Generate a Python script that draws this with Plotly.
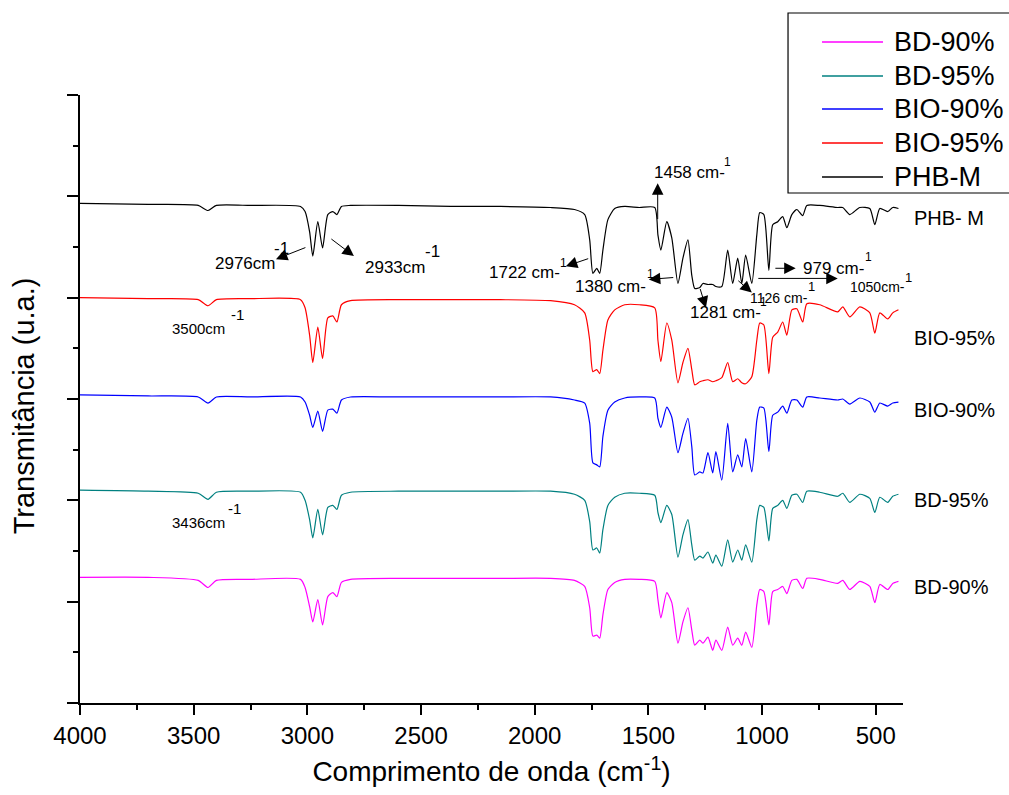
import plotly.graph_objects as go

# Wavenumber grid (cm-1) shared by all spectra
WAVENUMBER = [
    4000, 3700, 3480, 3437, 3400, 3250, 3030, 3010, 2990, 2976,
    2954, 2933, 2910, 2888, 2870, 2850, 2810, 2600, 2370, 2150,
    1930, 1825, 1780, 1758, 1744, 1727, 1714, 1700, 1678, 1648,
    1604, 1540, 1472, 1458, 1445, 1419, 1397, 1370, 1348, 1326,
    1309, 1296, 1274, 1260, 1238, 1217, 1203, 1177, 1151, 1129,
    1107, 1089, 1072, 1045, 1023, 1010, 992, 970, 953, 931,
    909, 891, 869, 847, 821, 803, 746, 667, 645, 614,
    570, 526, 504, 482, 447, 425, 400,
]

# Stacked transmittance (arbitrary units)
PHB_M = [
    4.93, 4.92, 4.91, 4.86, 4.91, 4.91, 4.90, 4.85, 4.65, 4.41,
    4.75, 4.49, 4.82, 4.85, 4.82, 4.90, 4.91, 4.91, 4.90, 4.90,
    4.89, 4.87, 4.82, 4.57, 4.24, 4.29, 4.24, 4.47, 4.77, 4.88,
    4.90, 4.89, 4.89, 4.62, 4.47, 4.75, 4.59, 4.14, 4.39, 4.57,
    4.22, 4.09, 4.10, 4.14, 4.13, 4.13, 4.11, 4.11, 4.47, 4.14,
    4.39, 4.14, 4.42, 4.14, 4.62, 4.84, 4.82, 4.27, 4.72, 4.75,
    4.80, 4.69, 4.82, 4.87, 4.81, 4.91, 4.91, 4.89, 4.89, 4.82,
    4.89, 4.88, 4.72, 4.88, 4.85, 4.89, 4.88,
]
BIO_95 = [
    4.00, 3.99, 3.98, 3.92, 3.98, 3.99, 3.98, 3.90, 3.63, 3.36,
    3.71, 3.40, 3.80, 3.82, 3.76, 3.93, 3.97, 3.98, 3.98, 3.98,
    3.97, 3.93, 3.85, 3.58, 3.27, 3.29, 3.25, 3.48, 3.78, 3.88,
    3.93, 3.93, 3.90, 3.58, 3.37, 3.75, 3.58, 3.16, 3.36, 3.50,
    3.29, 3.14, 3.17, 3.18, 3.19, 3.17, 3.18, 3.21, 3.36, 3.17,
    3.20, 3.16, 3.15, 3.22, 3.58, 3.75, 3.73, 3.25, 3.61, 3.66,
    3.76, 3.63, 3.88, 3.89, 3.76, 3.94, 3.93, 3.86, 3.91, 3.81,
    3.91, 3.85, 3.65, 3.85, 3.79, 3.85, 3.88,
]
BIO_90 = [
    3.04, 3.03, 3.02, 2.96, 3.02, 3.02, 3.02, 2.97, 2.84, 2.72,
    2.88, 2.68, 2.89, 2.90, 2.86, 2.99, 3.02, 3.02, 3.02, 3.02,
    3.02, 2.99, 2.96, 2.76, 2.37, 2.35, 2.33, 2.63, 2.89, 2.97,
    3.01, 3.02, 3.01, 2.81, 2.72, 2.92, 2.82, 2.47, 2.66, 2.81,
    2.53, 2.25, 2.28, 2.27, 2.47, 2.27, 2.48, 2.20, 2.76, 2.28,
    2.45, 2.33, 2.61, 2.28, 2.79, 2.92, 2.91, 2.48, 2.84, 2.87,
    2.93, 2.86, 2.99, 2.99, 2.92, 3.02, 3.01, 2.99, 3.00, 2.95,
    3.01, 2.97, 2.87, 2.96, 2.93, 2.96, 2.97,
]
BD_95 = [
    2.10, 2.09, 2.07, 2.01, 2.08, 2.09, 2.08, 2.00, 1.81, 1.63,
    1.91, 1.66, 1.93, 1.95, 1.91, 2.05, 2.08, 2.09, 2.09, 2.09,
    2.09, 2.06, 2.00, 1.79, 1.51, 1.53, 1.48, 1.71, 1.95, 2.03,
    2.07, 2.07, 2.05, 1.88, 1.78, 1.95, 1.86, 1.44, 1.66, 1.81,
    1.56, 1.41, 1.45, 1.43, 1.49, 1.38, 1.46, 1.35, 1.61, 1.39,
    1.51, 1.41, 1.56, 1.39, 1.81, 1.95, 1.93, 1.60, 1.92, 1.95,
    2.00, 1.92, 2.05, 2.06, 1.98, 2.09, 2.08, 2.04, 2.07, 1.98,
    2.06, 2.02, 1.88, 2.03, 1.98, 2.04, 2.06,
]
BD_90 = [
    1.24, 1.24, 1.21, 1.14, 1.21, 1.22, 1.22, 1.14, 0.95, 0.80,
    1.02, 0.77, 1.05, 1.09, 1.05, 1.19, 1.22, 1.23, 1.23, 1.23,
    1.23, 1.21, 1.15, 0.94, 0.66, 0.67, 0.64, 0.87, 1.12, 1.19,
    1.22, 1.22, 1.20, 1.02, 0.84, 1.09, 0.99, 0.59, 0.80, 0.94,
    0.72, 0.57, 0.62, 0.59, 0.65, 0.52, 0.62, 0.52, 0.75, 0.57,
    0.64, 0.57, 0.70, 0.55, 0.97, 1.12, 1.10, 0.77, 1.10, 1.12,
    1.15, 1.08, 1.21, 1.22, 1.13, 1.23, 1.22, 1.18, 1.21, 1.12,
    1.20, 1.15, 0.99, 1.17, 1.12, 1.18, 1.20,
]

SERIES_NAMES = ["BD-90%", "BD-95%", "BIO-90%", "BIO-95%", "PHB-M"]
SERIES_VALUES = [BD_90, BD_95, BIO_90, BIO_95, PHB_M]
SERIES_COLORS = ["#FF00FF", "#008080", "#0000FF", "#FF0000", "#000000"]
CURVE_LABELS = ["BD-90%", "BD-95%", "BIO-90%", "BIO-95%", "PHB- M"]

SANS = "Liberation Sans, Arial, sans-serif"
NARROW = "Liberation Sans Narrow, Arial Narrow, Liberation Sans, sans-serif"

fig = go.Figure()
for name, vals, color in zip(SERIES_NAMES, SERIES_VALUES, SERIES_COLORS):
    fig.add_trace(go.Scatter(
        x=WAVENUMBER, y=vals, mode="lines", name=name, showlegend=False,
        line=dict(color=color, width=1.2, shape="spline", smoothing=0.6),
    ))

annotations = []

# Band labels: (text, x, y, size), superscripts: (text, x, y, size)
band_text = [
    ("2976cm", 3415, 4.34, 17), ("2933cm", 2756, 4.30, 17),
    ("1458 cm-", 1485, 5.24, 17), ("1722 cm-", 2210, 4.25, 17),
    ("1380 cm-", 1832, 4.11, 17), ("1281 cm-", 1327, 3.85, 17),
    ("1126 cm-", 1063, 4.00, 14), ("979 cm-", 830, 4.29, 17),
    ("1050cm-", 623, 4.11, 14), ("3500cm", 3604, 3.70, 15),
    ("3436cm", 3604, 1.78, 15),
]
band_sup = [
    ("-1", 3156, 4.49, 17), ("-1", 2492, 4.46, 17),
    ("1", 1177, 5.34, 12), ("1", 1898, 4.34, 12),
    ("1", 1516, 4.23, 12), ("1", 1019, 3.96, 12),
    ("1", 808, 4.11, 13), ("1", 557, 4.40, 12),
    ("1", 381, 4.20, 13), ("-1", 3345, 3.83, 15),
    ("-1", 3358, 1.92, 15),
]
for t, x, y, s in band_text + band_sup:
    annotations.append(dict(
        text=t, x=x, y=y, xref="x", yref="y", showarrow=False,
        xanchor="left", yanchor="middle",
        font=dict(family=SANS, size=s, color="black"),
    ))

# Arrows: (head x, head y, tail x, tail y)
arrows = [
    (3138, 4.38, 3002, 4.50), (2795, 4.41, 2901, 4.59),
    (1459, 5.13, 1459, 4.76), (1863, 4.31, 1758, 4.39),
    (1498, 4.18, 1384, 4.20), (1247, 3.90, 1274, 4.10),
    (1045, 4.05, 1111, 4.18), (852, 4.29, 948, 4.29),
    (667, 4.19, 1023, 4.19),
]
for hx, hy, tx, ty in arrows:
    annotations.append(dict(
        text="", x=hx, y=hy, ax=tx, ay=ty, xref="x", yref="y",
        axref="x", ayref="y", showarrow=True, arrowhead=2,
        arrowsize=2.3, arrowwidth=1, arrowcolor="black", standoff=0,
    ))

# Curve names at the right end of each spectrum
curve_label_y = [0.191, 0.334, 0.482, 0.600, 0.798]
for lab, y in zip(CURVE_LABELS, curve_label_y):
    annotations.append(dict(
        text=lab, x=1.011, y=y, xref="paper", yref="paper", showarrow=False,
        xanchor="left", yanchor="middle",
        font=dict(family=SANS, size=20, color="black"),
    ))

# Vertical axis title
annotations.append(dict(
    text="Transmitância (u.a.)", x=-0.068, y=0.488, xref="paper",
    yref="paper", showarrow=False, textangle=-90,
    xanchor="center", yanchor="middle",
    font=dict(family=SANS, size=29, color="black"),
))

# Legend box
shapes = [dict(type="rect", xref="paper", yref="paper", x0=0.8603, x1=1.14,
               y0=0.8388, y1=1.1349, line=dict(color="black", width=1.2),
               fillcolor="white", layer="above")]
legend_rows = [1.0872, 1.0312, 0.9770, 0.9211, 0.8651]
for name, color, y in zip(SERIES_NAMES, SERIES_COLORS, legend_rows):
    shapes.append(dict(type="line", xref="paper", yref="paper", x0=0.9016,
                       x1=0.9757, y0=y, y1=y, line=dict(color=color, width=1.5),
                       layer="above"))
    annotations.append(dict(
        text=name, x=0.9866, y=y, xref="paper", yref="paper", showarrow=False,
        xanchor="left", yanchor="middle",
        font=dict(family=SANS, size=27, color="black"),
    ))

fig.update_layout(
    width=1009, height=795,
    margin=dict(l=80, r=106, t=95, b=92, autoexpand=False),
    paper_bgcolor="white", plot_bgcolor="white",
    showlegend=False,
    annotations=annotations, shapes=shapes,
    xaxis=dict(
        range=[4000, 380], showgrid=False, zeroline=False,
        showline=True, linecolor="black", linewidth=2,
        ticks="outside", ticklen=10, tickwidth=2, tickcolor="black",
        tickvals=[4000, 3500, 3000, 2500, 2000, 1500, 1000, 500],
        tickfont=dict(family=NARROW, size=24, color="black"),
        minor=dict(dtick=250, ticks="outside", ticklen=5, tickwidth=2,
                   tickcolor="black", showgrid=False),
        title=dict(text="Comprimento de onda (cm<sup>-1</sup>)",
                   font=dict(family=NARROW, size=28, color="black"),
                   standoff=14),
    ),
    yaxis=dict(
        range=[0, 6], showgrid=False, zeroline=False,
        showline=True, linecolor="black", linewidth=2,
        ticks="outside", ticklen=11, tickwidth=2, tickcolor="black",
        dtick=1, showticklabels=False,
        minor=dict(dtick=0.5, ticks="outside", ticklen=5, tickwidth=2,
                   tickcolor="black", showgrid=False),
    ),
)

fig.write_html("out.html")
